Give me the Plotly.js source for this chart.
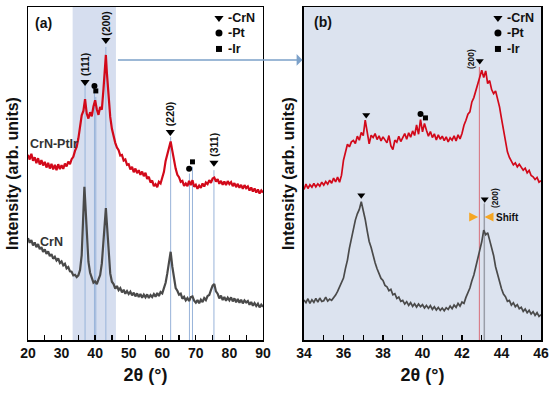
<!DOCTYPE html>
<html><head><meta charset="utf-8">
<script src="https://cdn.plot.ly/plotly-3.0.1.min.js"></script>
<style>html,body{margin:0;padding:0;background:#fff}#c{width:550px;height:393px}</style>
</head><body><div id="c"></div>
<script>
// ---------- Panel (a): full scan ----------
const twoThetaA = [20,20.5,21,21.5,22,22.5,23,23.5,24,24.5,25,25.5,26,26.5,27,27.5,28,28.5,29,29.5,30,30.5,31,31.5,32,32.5,33,33.5,34,34.5,35,35.5,36,36.5,36.8,37,37.5,38,38.5,39,39.5,40,40.5,41,41.5,42,42.5,43,43.2,43.5,44,44.5,45,45.5,46,46.5,47,47.5,48,48.5,49,49.5,50,50.5,51,51.5,52,52.5,53,53.5,54,54.5,55,55.5,56,56.5,57,57.5,58,58.5,59,59.5,60,60.5,61,61.5,62,62.5,63,63.5,64,64.5,65,65.5,66,66.5,67,67.5,68,68.5,69,69.5,70,70.5,71,71.5,72,72.5,73,73.5,74,74.5,75,75.5,76,76.5,77,77.5,78,78.5,79,79.5,80,80.5,81,81.5,82,82.5,83,83.5,84,84.5,85,85.5,86,86.5,87,87.5,88,88.5,89,89.5,90];
const crnPtIrA = [55.6,54.2,55.9,53.8,54.9,53.1,54.6,52.7,54.0,52.4,53.5,51.8,53.2,51.5,52.9,51.2,52.6,51.0,52.8,51.3,52.5,51.4,53.0,52.1,53.6,52.8,54.3,55.0,56.8,58.0,60.5,63.8,67.5,68.8,70.5,72.3,68.0,66.5,68.4,67.2,70.1,72.0,69.3,67.6,70.0,69.2,75.5,83.0,85.6,80.2,72.5,67.0,63.4,61.0,59.2,57.8,57.0,55.4,55.6,53.9,54.2,52.6,52.8,51.2,52.0,50.4,51.5,50.1,51.0,49.6,50.6,49.2,50.2,48.4,49.0,47.3,47.9,46.2,46.8,45.9,47.5,47.0,48.6,50.5,53.8,56.0,58.2,59.6,56.8,53.5,51.4,49.6,48.9,47.5,47.8,46.3,47.0,46.2,47.8,46.5,48.0,46.0,46.6,45.4,46.4,45.7,47.0,46.1,47.3,46.8,48.0,47.2,48.5,48.8,47.6,48.3,46.9,47.8,46.6,47.6,46.5,47.7,46.8,47.4,46.2,47.1,45.9,46.9,45.7,46.6,45.4,46.5,45.6,46.1,44.9,45.8,44.6,45.5,44.3,45.2,44.0,44.9,44.3];
const crnA = [30.6,29.2,30.0,28.4,29.3,27.9,28.8,27.3,27.9,26.5,27.2,25.9,26.6,25.2,25.8,24.4,25.0,23.9,24.5,23.1,23.6,22.4,22.9,21.5,21.9,20.6,20.5,19.4,19.6,18.9,19.4,21.0,25.5,36.0,46.0,42.5,30.5,23.5,20.2,18.8,17.2,17.6,16.8,18.2,19.5,23.0,29.0,37.5,39.6,35.0,25.5,20.0,17.5,16.8,15.4,16.2,15.0,15.6,14.3,15.1,13.9,14.7,13.8,14.5,13.4,14.2,13.1,14.0,12.9,13.8,12.7,13.6,12.8,13.7,12.6,13.5,12.9,13.8,13.0,14.1,13.2,14.4,14.0,15.5,17.2,20.0,24.0,26.5,22.0,18.0,15.6,14.8,13.6,13.9,12.4,13.0,11.9,12.6,11.7,12.9,13.1,11.8,11.2,12.0,11.0,12.1,11.4,12.6,12.0,13.2,13.5,15.0,16.3,16.8,14.6,13.9,12.5,13.3,12.0,12.9,11.8,12.7,11.9,12.8,11.6,12.5,11.3,12.3,11.2,12.1,11.0,11.9,11.3,11.7,10.6,11.4,10.3,11.1,10.2,10.9,9.8,10.6,10.0];

// ---------- Panel (b): zoomed 34-46 ----------
const twoThetaB = [34.0,34.1,34.2,34.3,34.4,34.5,34.6,34.7,34.8,34.9,35.0,35.1,35.2,35.3,35.4,35.5,35.6,35.7,35.8,35.9,36.0,36.1,36.2,36.3,36.4,36.5,36.6,36.7,36.8,36.9,37.0,37.1,37.2,37.3,37.4,37.5,37.6,37.7,37.8,37.9,38.0,38.1,38.2,38.3,38.4,38.5,38.6,38.7,38.8,38.9,39.0,39.1,39.2,39.3,39.4,39.5,39.6,39.7,39.8,39.9,40.0,40.1,40.2,40.3,40.4,40.5,40.6,40.7,40.8,40.9,41.0,41.1,41.2,41.3,41.4,41.5,41.6,41.7,41.8,41.9,42.0,42.1,42.2,42.3,42.4,42.5,42.6,42.7,42.8,42.9,43.0,43.1,43.2,43.3,43.4,43.5,43.6,43.7,43.8,43.9,44.0,44.1,44.2,44.3,44.4,44.5,44.6,44.7,44.8,44.9,45.0,45.1,45.2,45.3,45.4,45.5,45.6,45.7,45.8,45.9,46.0];
const crnPtIrB = [45.2,46.8,45.5,46.6,45.9,47.0,46.0,46.9,46.2,47.4,46.5,47.6,46.8,48.0,47.1,48.6,47.5,48.9,47.4,49.5,54.0,56.5,58.8,58.0,59.5,59.9,59.0,61.2,60.0,62.3,61.4,66.0,63.0,58.9,61.5,60.8,62.0,60.2,61.3,59.8,61.0,60.1,59.2,61.4,58.3,57.2,60.0,59.4,61.2,59.6,60.8,62.0,60.3,62.2,60.9,62.8,61.4,64.6,61.8,66.2,62.5,65.0,63.0,61.2,62.6,60.8,61.9,60.1,61.6,60.3,61.2,59.9,61.0,59.5,60.7,60.0,61.3,59.8,61.6,60.4,62.0,64.5,66.0,67.8,68.5,71.5,72.8,75.0,77.2,79.6,81.0,78.8,80.8,77.0,77.9,75.2,74.0,74.8,72.5,70.0,66.5,63.0,59.8,56.5,54.8,53.5,52.6,53.2,52.0,52.8,51.8,51.0,51.6,50.2,50.9,49.4,49.0,48.2,48.8,47.4,47.8];
const crnB = [12.0,11.2,12.4,11.0,12.1,11.3,12.5,11.4,12.6,11.6,11.8,12.9,11.7,12.3,11.9,12.6,13.5,14.6,15.8,17.0,18.6,21.5,24.0,27.6,30.5,33.4,36.0,37.9,39.2,41.5,39.0,36.2,32.8,29.6,27.8,25.0,23.2,21.4,20.2,18.5,17.9,16.4,16.0,14.8,15.2,13.6,13.9,12.5,12.9,11.6,11.9,10.8,11.5,10.4,11.2,10.1,10.9,9.9,10.8,10.0,10.6,9.6,10.4,9.5,10.3,9.2,10.0,9.0,9.8,8.9,9.6,8.8,9.7,9.2,10.2,9.4,10.5,9.8,11.0,10.2,11.4,11.0,12.8,14.2,15.6,17.8,19.5,22.0,24.2,27.0,29.5,33.0,31.6,32.2,30.0,27.6,25.4,22.0,19.8,17.0,15.4,13.8,13.0,11.6,11.9,10.5,11.2,10.0,10.6,9.4,9.8,8.6,9.3,8.2,8.9,7.8,8.5,7.4,8.2,7.1,7.6];

// reflection positions (2θ) and labels
const crnPeaksA = [37.0, 43.2, 62.4, 75.4];
const crnLabelsA = ['(111)', '(200)', '(220)', '(311)'];
const ptPeaksA = [39.8, 68.0];
const irPeaksA = [40.2, 69.0];
const refLinesA = [37.0, 39.8, 40.2, 43.2, 62.5, 68.1, 69.0, 75.4];
const ticksA = [20, 30, 40, 50, 60, 70, 80, 90];
const ticksB = [34, 36, 38, 40, 42, 44, 46];

// ---------- layout helpers (positions/styles) ----------
const FONT = 'Arial, "Liberation Sans", sans-serif';
const RED = '#d2091a', GREY = '#4a4a4a', BLUELINE = '#98b3d9';
const crnMarkYA = [77.5, 90.1, 62.5, 53.2];
const crnLabYA = [82.6, 95.2, 67.9, 58.6];
const ptMarkYA = [76.3, 51.4];
const irMarkYA = [74.8, 53.5];
const lineTopA = [77, 75, 73, 88, 61, 50, 52, 51];

const mk = (x, y, sym, size, xa, ya) => ({x, y, xaxis: xa, yaxis: ya, type: 'scatter', mode: 'markers',
  marker: {symbol: sym, size: size, color: '#000'}, hoverinfo: 'skip', showlegend: false});

const traces = [
  {x: twoThetaA, y: crnPtIrA, type: 'scatter', mode: 'lines', line: {color: RED, width: 2.2}, xaxis: 'x', yaxis: 'y', showlegend: false},
  {x: twoThetaA, y: crnA, type: 'scatter', mode: 'lines', line: {color: GREY, width: 2.2}, xaxis: 'x', yaxis: 'y', showlegend: false},
  {x: twoThetaB, y: crnPtIrB, type: 'scatter', mode: 'lines', line: {color: RED, width: 1.7}, xaxis: 'x2', yaxis: 'y2', showlegend: false},
  {x: twoThetaB, y: crnB, type: 'scatter', mode: 'lines', line: {color: GREY, width: 1.7}, xaxis: 'x2', yaxis: 'y2', showlegend: false},
  mk(crnPeaksA, crnMarkYA, 'triangle-down', 8, 'x', 'y'),
  mk(ptPeaksA, ptMarkYA, 'circle', 6, 'x', 'y'),
  mk(irPeaksA, irMarkYA, 'square', 5, 'x', 'y'),
  // legends (a)
  mk([76.9], [96.7], 'triangle-down', 8, 'x', 'y'),
  mk([76.9], [92.2], 'circle', 7, 'x', 'y'),
  mk([76.9], [87.4], 'square', 6, 'x', 'y'),
  // panel b markers
  mk([37.15, 42.9, 36.9, 43.15], [67.6, 83.8, 43.5, 42.3], 'triangle-down', 7, 'x2', 'y2'),
  mk([39.9], [67.9], 'circle', 6, 'x2', 'y2'),
  mk([40.15], [66.7], 'square', 5, 'x2', 'y2'),
  mk([43.82], [96.7], 'triangle-down', 8, 'x2', 'y2'),
  mk([43.82], [92.2], 'circle', 7, 'x2', 'y2'),
  mk([43.82], [87.4], 'square', 6, 'x2', 'y2')
];

const shapes = [
  {type: 'rect', xref: 'x', yref: 'y domain', x0: 33.3, x1: 46.2, y0: 0, y1: 1, fillcolor: '#d6deef', line: {width: 0}, layer: 'below'},
  {type: 'rect', xref: 'x2 domain', yref: 'y2 domain', x0: 0, x1: 1, y0: 0, y1: 1, fillcolor: '#dce3ef', line: {width: 0}, layer: 'below'}
];
refLinesA.forEach((v, i) => shapes.push({type: 'line', xref: 'x', yref: 'y', x0: v, x1: v, y0: 0, y1: lineTopA[i], line: {color: BLUELINE, width: 1}, layer: 'below'}));
shapes.push({type: 'line', xref: 'x2', yref: 'y2', x0: 42.88, x1: 42.88, y0: 0, y1: 82, line: {color: '#d9707a', width: 1}, layer: 'below'});
shapes.push({type: 'line', xref: 'x2', yref: 'y2', x0: 43.13, x1: 43.13, y0: 0, y1: 41, line: {color: '#9a9ea8', width: 1.5}, layer: 'below'});

const ann = [];
const T = (x, y, text, size, xa, ya, extra) => ann.push(Object.assign({x, y, xref: xa, yref: ya, text, showarrow: false,
  font: {family: FONT, size, color: '#111'}, xanchor: 'left', yanchor: 'middle'}, extra || {}));
crnPeaksA.forEach((v, i) => T(v, crnLabYA[i], '<b>' + crnLabelsA[i] + '</b>', 10.5, 'x', 'y', {textangle: -90, xanchor: 'center'}));
T(21.4, 95.2, '<b>(a)</b>', 14, 'x', 'y');
T(79.0, 96.7, '<b>-CrN</b>', 12.5, 'x', 'y');
T(79.0, 92.2, '<b>-Pt</b>', 12.5, 'x', 'y');
T(79.0, 87.4, '<b>-Ir</b>', 12.5, 'x', 'y');
T(20.1, 58.9, '<b>CrN-PtIr</b>', 12.5, 'x', 'y', {font: {family: FONT, size: 12.5, color: '#333'}});
T(22.9, 29.4, '<b>CrN</b>', 12.5, 'x', 'y', {font: {family: FONT, size: 12.5, color: '#333'}});
T(34.4, 95.5, '<b>(b)</b>', 14, 'x2', 'y2');
T(44.18, 96.7, '<b>-CrN</b>', 12.5, 'x2', 'y2');
T(44.18, 92.2, '<b>-Pt</b>', 12.5, 'x2', 'y2');
T(44.18, 87.4, '<b>-Ir</b>', 12.5, 'x2', 'y2');
T(42.46, 84.4, '<b>(200)</b>', 8.5, 'x2', 'y2', {textangle: -90, xanchor: 'center'});
T(43.67, 42.6, '<b>(200)</b>', 8.5, 'x2', 'y2', {textangle: -90, xanchor: 'center'});
T(43.62, 36.9, '<b>Shift</b>', 10, 'x2', 'y2');
// arrows
ann.push({xref: 'paper', yref: 'paper', x: 0.535, y: 0.841, ax: -186, ay: 0, text: '', showarrow: true,
  arrowhead: 1, arrowsize: 1.3, arrowwidth: 1.5, arrowcolor: '#7ca1c9'});
ann.push({xref: 'x2', yref: 'y2', x: 42.82, y: 36.9, ax: -8, ay: 0, text: '', showarrow: true,
  arrowhead: 2, arrowsize: 0.9, arrowwidth: 2, arrowcolor: '#f5a623'});
ann.push({xref: 'x2', yref: 'y2', x: 43.14, y: 36.9, ax: 8, ay: 0, text: '', showarrow: true,
  arrowhead: 2, arrowsize: 0.9, arrowwidth: 2, arrowcolor: '#f5a623'});

const xBase = {showline: true, mirror: true, linecolor: '#000', linewidth: 1.5, ticks: 'inside', ticklen: 5, tickwidth: 1.3, tickcolor: '#000',
  showgrid: false, zeroline: false, tickfont: {family: FONT, size: 14, color: '#111', weight: 'bold'},
  title: {text: '<b>2θ (°)</b>', font: {family: FONT, size: 18, color: '#111'}, standoff: 8}};
const yBase = {showline: true, mirror: true, linecolor: '#000', linewidth: 1.5, ticks: '', showticklabels: false, showgrid: false, zeroline: false,
  range: [0, 100], title: {text: '<b>Intensity (arb. units)</b>', font: {family: FONT, size: 16, color: '#111'}, standoff: 4}};

const layout = {
  width: 550, height: 393, margin: {l: 28, r: 9, t: 7, b: 53},
  paper_bgcolor: '#fff', plot_bgcolor: 'rgba(0,0,0,0)', showlegend: false,
  font: {family: FONT},
  xaxis: Object.assign({}, xBase, {domain: [0, 0.458], range: [20, 90], tickvals: ticksA, minor: {dtick: 5, ticks: 'inside', ticklen: 5, tickcolor: '#000'}}),
  yaxis: Object.assign({}, yBase, {anchor: 'x'}),
  xaxis2: Object.assign({}, xBase, {domain: [0.538, 1], range: [34, 46], tickvals: ticksB, anchor: 'y2', minor: {dtick: 1, ticks: 'inside', ticklen: 5, tickcolor: '#000'}}),
  yaxis2: Object.assign({}, yBase, {anchor: 'x2'}),
  shapes: shapes, annotations: ann
};
Plotly.newPlot('c', traces, layout, {displayModeBar: false, staticPlot: true});
</script></body></html>
